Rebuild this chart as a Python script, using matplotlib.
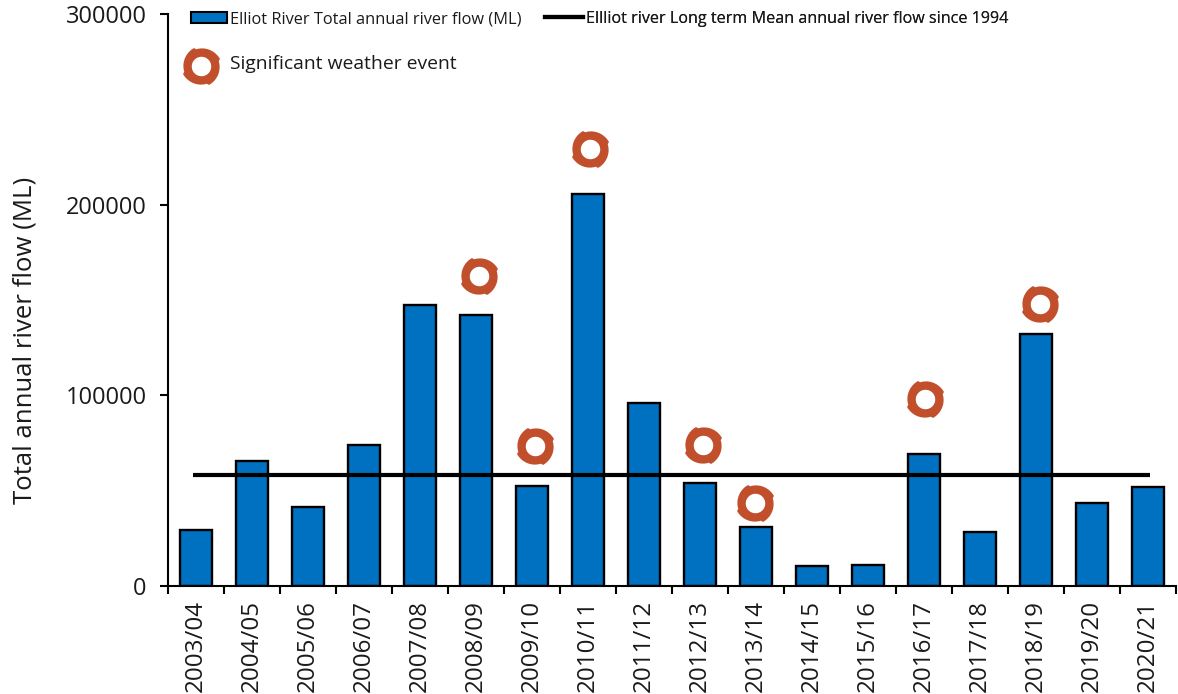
import numpy as np
import matplotlib
matplotlib.use("Agg")
import matplotlib.pyplot as plt
from matplotlib.path import Path
from matplotlib.patches import Patch
from matplotlib.lines import Line2D

years = ["2003/04","2004/05","2005/06","2006/07","2007/08","2008/09","2009/10","2010/11","2011/12",
         "2012/13","2013/14","2014/15","2015/16","2016/17","2017/18","2018/19","2019/20","2020/21"]
flow = [29500,65500,41500,74000,147500,142000,52500,205500,96000,
        54000,31000,10500,11000,69000,28500,132000,43500,52000]
long_term_mean = 58000
event_x = [5.05,6.05,7.04,9.05,9.98,13.02,15.07]
event_y = [162500,73500,229000,74000,43500,98000,148000]

BLUE = "#0070C0"
RUST = "#C24F2B"
INK = "#1a1a1a"
FONT = "Open Sans"
plt.rcParams["font.family"] = [FONT, "DejaVu Sans"]


def cyclone_marker():
    t = np.linspace(0, 2*np.pi, 60)
    verts, codes = [], []
    n = 480
    th = np.linspace(0, 2*np.pi, n, endpoint=False)
    phase = (th * 4 / (2*np.pi)) % 1
    r = 1.0 + 0.12 * (1 - phase)**2 * np.clip(phase/0.06, 0, 1)
    outer = np.c_[r*np.cos(th + 0.3), r*np.sin(th + 0.3)]
    verts += outer.tolist() + [outer[0].tolist()]
    codes += [Path.MOVETO] + [Path.LINETO]*(n-1) + [Path.CLOSEPOLY]
    inner = np.c_[0.54*np.cos(-t), 0.54*np.sin(-t)]
    verts += inner.tolist() + [inner[0].tolist()]
    codes += [Path.MOVETO] + [Path.LINETO]*(len(t)-1) + [Path.CLOSEPOLY]
    return Path(verts, codes)


mk = cyclone_marker()

fig = plt.figure(figsize=(11.78, 6.94), dpi=100)
ax = fig.add_axes([168/1178, 1-586/694, 1008/1178, 572/694])
x = np.arange(len(years))
ax.bar(x, flow, width=0.57, color=BLUE, edgecolor="black", linewidth=1.7, zorder=2)
ax.plot([x[0]-0.05, x[-1]+0.04], [long_term_mean]*2, color="black", lw=3, zorder=3,
        solid_capstyle="butt")
ax.scatter(event_x, event_y, marker=mk, s=700, color=RUST, linewidths=0, zorder=4, clip_on=False)

ax.set_xlim(-0.5, len(years)-0.5)
ax.set_ylim(0, 300000)
ax.set_yticks([0, 100000, 200000, 300000])
ax.set_xticks(x)
ax.set_xticklabels(years, rotation=90, fontsize=17.4, color=INK)
ax.set_xticks(np.arange(len(years)+1)-0.5, minor=True)
ax.tick_params(axis="x", which="major", length=0, pad=10)
ax.tick_params(axis="x", which="minor", length=6, width=1.5, direction="out")
ax.tick_params(axis="y", length=6, width=1.5, direction="out", labelsize=17, pad=9.5, labelcolor=INK)
ax.set_ylabel("Total annual river flow (ML)", fontsize=18.5, color=INK)
ax.yaxis.set_label_coords(-131/1008, 0.43)
for s in ("top", "right"):
    ax.spines[s].set_visible(False)
for s in ("left", "bottom"):
    ax.spines[s].set_linewidth(1.5)

leg1 = ax.legend([Patch(facecolor=BLUE, edgecolor="black", linewidth=1.5)],
                 ["Elliot River Total annual river flow (ML)"],
                 frameon=False, fontsize=11.8, loc="center left",
                 bbox_to_anchor=(23/1008, 1-5/572), handlelength=2.2, handleheight=0.7, handletextpad=0.15,
                 borderpad=0, borderaxespad=0, labelcolor=INK)
ax.add_artist(leg1)
leg2 = ax.legend([Line2D([0], [0], color="black", lw=3)],
                 ["Ellliot river Long term Mean annual river flow since 1994"],
                 frameon=False, fontsize=11.6, loc="center left",
                 bbox_to_anchor=(377/1008, 1-5/572), handlelength=2.35, handletextpad=0.2,
                 borderpad=0, borderaxespad=0, labelcolor=INK)
ax.add_artist(leg2)
ax.scatter([33/1008], [1-52/572], marker=mk, s=700, color=RUST, linewidths=0,
           transform=ax.transAxes, zorder=4, clip_on=False)
ax.text(62/1008, 1-50/572, "Significant weather event", transform=ax.transAxes,
        fontsize=13.9, va="center", ha="left", color=INK)

fig.savefig("out.png", dpi=100)
